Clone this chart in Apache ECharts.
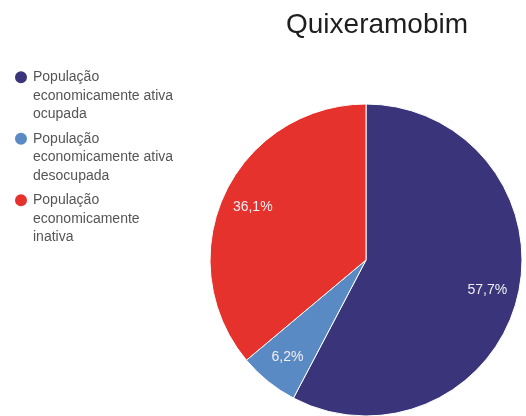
<!DOCTYPE html>
<html>
<head>
<meta charset="utf-8">
<script src="https://cdn.jsdelivr.net/npm/echarts@6/dist/echarts.min.js"></script>
<style>
html,body{margin:0;padding:0;background:#fff;}
#c{width:526px;height:416px;}
</style>
</head>
<body>
<div id="c"></div>
<script>
const titleText = 'Quixeramobim';
const categories = [
  'População economicamente ativa ocupada',
  'População economicamente ativa desocupada',
  'População economicamente inativa'
];
const legendLines = [
  'População\neconomicamente ativa\nocupada',
  'População\neconomicamente ativa\ndesocupada',
  'População\neconomicamente\ninativa'
];
const values = [57.7, 6.2, 36.1];
const colors = ['#3a357a', '#5a8ac4', '#e6322c'];

const data = categories.map((n, i) => ({ name: n, value: values[i] }));
const fmt = p => p.value.toFixed(1).replace('.', ',') + '%';

const chart = echarts.init(document.getElementById('c'), null, { renderer: 'canvas' });
chart.setOption({
  animation: false,
  backgroundColor: '#ffffff',
  color: colors,
  title: {
    text: titleText,
    left: 286,
    top: 11,
    padding: 0,
    textStyle: { fontFamily: 'Liberation Sans, Arial, sans-serif', fontSize: 28, fontWeight: 'normal', color: '#1e1e1e' }
  },
  legend: {
    data: categories,
    orient: 'vertical',
    left: 13,
    top: 31,
    padding: 0,
    icon: 'circle',
    itemWidth: 14,
    itemHeight: 14,
    itemGap: -31,
    selectedMode: false,
    formatter: name => '\n\n' + legendLines[categories.indexOf(name)],
    textStyle: {
      fontFamily: 'Liberation Sans, Arial, sans-serif',
      fontSize: 14,
      lineHeight: 18.5,
      color: '#555555'
    }
  },
  series: [
    {
      type: 'pie',
      center: [366, 260],
      radius: [0, 156],
      startAngle: 90,
      clockwise: true,
      silent: true,
      label: { show: false },
      labelLine: { show: false },
      itemStyle: { borderColor: '#ffffff', borderWidth: 1 },
      data: data
    },
    {
      type: 'pie',
      center: [366, 260],
      radius: [88, 156],
      startAngle: 90,
      clockwise: true,
      silent: true,
      legendHoverLink: false,
      itemStyle: { color: 'rgba(0,0,0,0)', borderWidth: 0 },
      label: {
        show: true,
        position: 'inside',
        formatter: fmt,
        color: '#f2eef4',
        fontFamily: 'Liberation Sans, Arial, sans-serif',
        fontSize: 14
      },
      labelLine: { show: false },
      data: data.map(d => ({ name: d.name + ' ', value: d.value }))
    }
  ]
});
</script>
</body>
</html>
